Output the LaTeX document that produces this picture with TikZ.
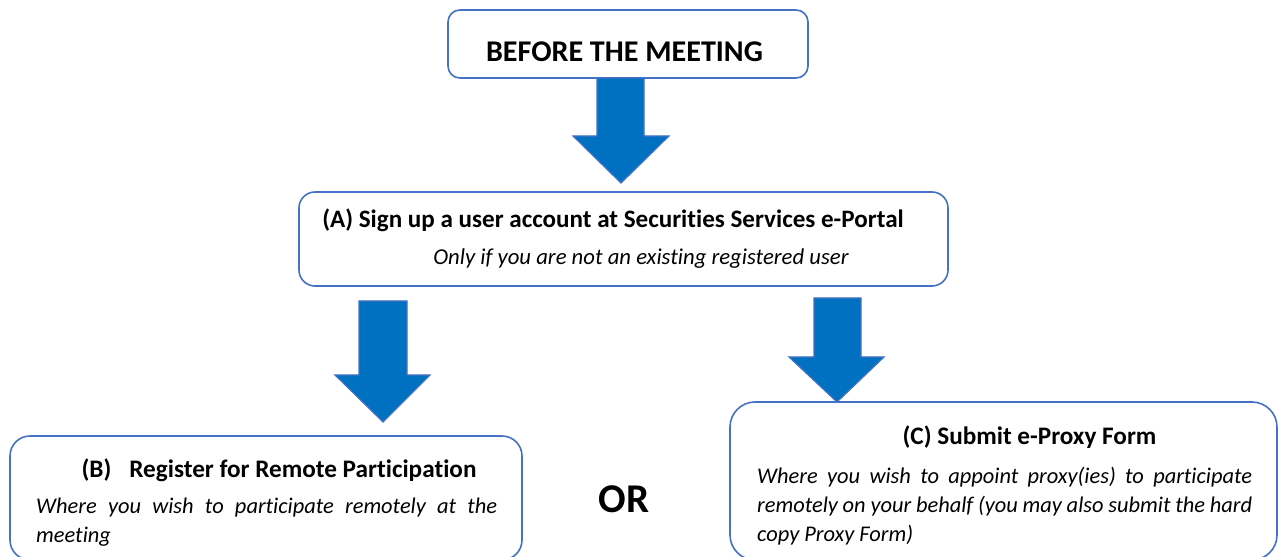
\documentclass[tikz,border=0pt]{standalone}
\usepackage{fontspec}
\setmainfont{Carlito}[Ligatures=NoCommon]
\definecolor{boxblue}{HTML}{4472C4}
\definecolor{arrowblue}{HTML}{0070C0}
\newcommand\fs[1]{\fontsize{#1}{#1}\selectfont}
\begin{document}
\begin{tikzpicture}[x=1bp,y=-1bp,
  roundbox/.style={draw=boxblue, line width=1.6bp, fill=white, inner sep=0pt},
  blockarrow/.style={fill=arrowblue, draw=boxblue, line width=1.2bp, line join=miter},
  txt/.style={anchor=base, inner sep=0pt, text=black},
  txtl/.style={anchor=base west, inner sep=0pt, text=black}]
\useasboundingbox (0,0) rectangle (1278,557);
\clip (0,0) rectangle (1278,557);
\fill[white] (0,0) rectangle (1278,557);
% boxes
\node[roundbox, rounded corners=12bp, minimum width=360bp, minimum height=68bp] (topbox) at (628,44) {};
\node[roundbox, rounded corners=16bp, minimum width=649bp, minimum height=94bp] (boxA) at (623.5,239) {};
\node[roundbox, rounded corners=20bp, minimum width=512bp, minimum height=124bp] (boxB) at (266,498) {};
\node[roundbox, rounded corners=25bp, minimum width=547bp, minimum height=158bp] (boxC) at (1003.5,481) {};
% block arrows
\draw[blockarrow] (597,78) -- (644,78) -- (644,136) -- (669,136) -- (621,183) -- (573,136) -- (597,136) -- cycle;
\draw[blockarrow] (359,301) -- (407,301) -- (407,375) -- (430,375) -- (383,422) -- (335,375) -- (359,375) -- cycle;
\draw[blockarrow] (814,298) -- (861,298) -- (861,357) -- (884,357) -- (837,402) -- (789,357) -- (814,357) -- cycle;
% texts
\node[txt, font=\bfseries\fs{30.2}] (t0) at (624.5,62) {BEFORE THE MEETING};
\node[txt, font=\bfseries\fs{25.2}] (tA) at (613,228) {(A) Sign up a user account at Securities Services e-Portal};
\node[txt, font=\itshape\fs{22.8}] (sA) at (641,265) {Only if you are not an existing registered user};
\node[txt, font=\bfseries\fs{25.3}] (tB) at (279,477) {(B)\hspace{18bp}Register for Remote Participation};
\node[txtl, font=\itshape\fs{22.5}] (sB1) at (36,513) {\makebox[461bp][s]{Where you wish to participate remotely at the}};
\node[txtl, font=\itshape\fs{22.5}] (sB2) at (36,542) {meeting};
\node[txt, font=\bfseries\fs{41}] (or) at (624,512) {OR};
\node[txt, font=\bfseries\fs{25.3}] (tC) at (1029.5,444) {(C) Submit e-Proxy Form};
\node[txtl, font=\itshape\fs{22.5}] (sC1) at (757,483) {\makebox[495bp][s]{Where you wish to appoint proxy(ies) to participate}};
\node[txtl, font=\itshape\fs{22.5}] (sC2) at (757,512) {\makebox[495bp][s]{remotely on your behalf (you may also submit the hard}};
\node[txtl, font=\itshape\fs{22.5}] (sC3) at (757,541) {copy Proxy Form)};
\end{tikzpicture}
\end{document}
